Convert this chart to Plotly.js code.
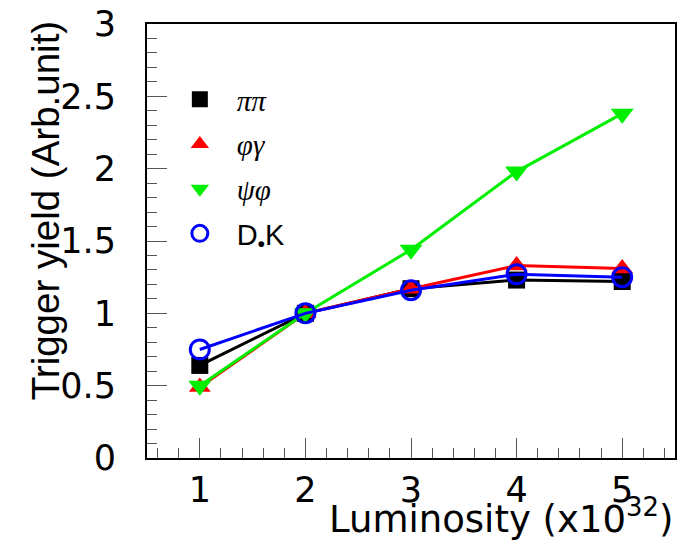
<!DOCTYPE html>
<html>
<head>
<meta charset="utf-8">
<script src="https://cdn.plot.ly/plotly-3.0.1.min.js"></script>
<style>html,body{margin:0;padding:0;background:#fff;}#chart{width:681px;height:540px;}</style>
</head>
<body>
<div id="chart"></div>
<script>
const luminosity = [1, 2, 3, 4, 5];
const pipiYield = [0.64, 1.0, 1.17, 1.23, 1.22];
const phigammaYield = [0.49, 1.0, 1.17, 1.33, 1.31];
const psiphiYield = [0.50, 1.0, 1.44, 1.98, 2.38];
const dskYield = [0.75, 1.0, 1.16, 1.27, 1.25];
const seriesNames = [
  '<span style="font-family:Liberation Serif"><i>ππ</i></span>',
  '<span style="font-family:Liberation Serif"><i>φγ</i></span>',
  '<span style="font-family:Liberation Serif"><i>ψφ</i></span>',
  'D<sub><b>•</b></sub>K'
];

const SANS = 'Liberation Sans, Arial, sans-serif';
const WIDE = 'DejaVu Sans, sans-serif';

const styles = [
  {color: '#000000', symbol: 'square', size: 17, lw: 0},
  {color: '#ff0000', symbol: 'triangle-up', size: 19, lw: 0},
  {color: '#00ee00', symbol: 'triangle-down', size: 20, lw: 0},
  {color: '#0000ff', symbol: 'circle-open', size: 19, lw: 3}
];
const values = [pipiYield, phigammaYield, psiphiYield, dskYield];

const traces = [];
values.forEach((v, i) => {
  const s = styles[i];
  traces.push({
    x: luminosity, y: v, type: 'scatter', mode: 'lines+markers',
    line: {color: s.color, width: 3},
    marker: {symbol: s.symbol, size: s.size, color: s.color, line: {width: s.lw, color: s.color}},
    showlegend: false, hoverinfo: 'skip'
  });
});
values.forEach((v, i) => {
  const s = styles[i];
  traces.push({
    x: [null], y: [null], type: 'scatter', mode: 'markers',
    name: seriesNames[i], legendgroup: 'g' + i,
    marker: {symbol: s.symbol, size: s.size, color: s.color, line: {width: s.lw, color: s.color}}
  });
});

const layout = {
  width: 681, height: 540,
  margin: {l: 147, r: 6, t: 24, b: 82},
  paper_bgcolor: '#ffffff', plot_bgcolor: '#ffffff',
  font: {family: SANS, color: '#000000', size: 24},
  showlegend: true,
  legend: {x: 0.03, y: 0.885, xanchor: 'left', yanchor: 'top', bgcolor: 'rgba(0,0,0,0)',
           font: {family: SANS, size: 29, color: '#000'}, tracegroupgap: 4, itemsizing: 'trace', itemwidth: 64},
  xaxis: {
    range: [0.5, 5.5], tick0: 1, dtick: 1, ticks: 'inside', ticklen: 20, tickwidth: 1, tickcolor: '#555',
    showline: true, linewidth: 2, linecolor: '#000', mirror: true, showgrid: false, zeroline: false,
    tickfont: {family: WIDE, size: 35, color: '#000'}, ticklabelstandoff: 0,
    minor: {dtick: 0.2, ticks: 'inside', ticklen: 10, tickwidth: 1, tickcolor: '#555', showgrid: false}
  },
  yaxis: {
    range: [0, 3], tick0: 0, dtick: 0.5, ticks: 'inside', ticklen: 20, tickwidth: 1, tickcolor: '#555',
    showline: true, linewidth: 2, linecolor: '#000', mirror: true, showgrid: false, zeroline: false,
    tickfont: {family: WIDE, size: 35, color: '#000'}, ticklabelstandoff: 22,
    minor: {dtick: 0.1, ticks: 'inside', ticklen: 10, tickwidth: 1, tickcolor: '#555', showgrid: false}
  },
  annotations: [
    {text: 'Trigger yield (Arb.unit)', xref: 'paper', yref: 'paper', x: -0.193, y: 1.01,
     xanchor: 'center', yanchor: 'top', textangle: -90, showarrow: false,
     font: {family: SANS, size: 38.5, color: '#000'}},
    {text: 'Luminosity (x10<sup>32</sup>)', xref: 'paper', yref: 'paper', x: 1.0, y: -0.135,
     xanchor: 'right', yanchor: 'middle', showarrow: false,
     font: {family: WIDE, size: 37, color: '#000'}}
  ]
};

Plotly.newPlot('chart', traces, layout, {displayModeBar: false, staticPlot: true});
</script>
</body>
</html>
